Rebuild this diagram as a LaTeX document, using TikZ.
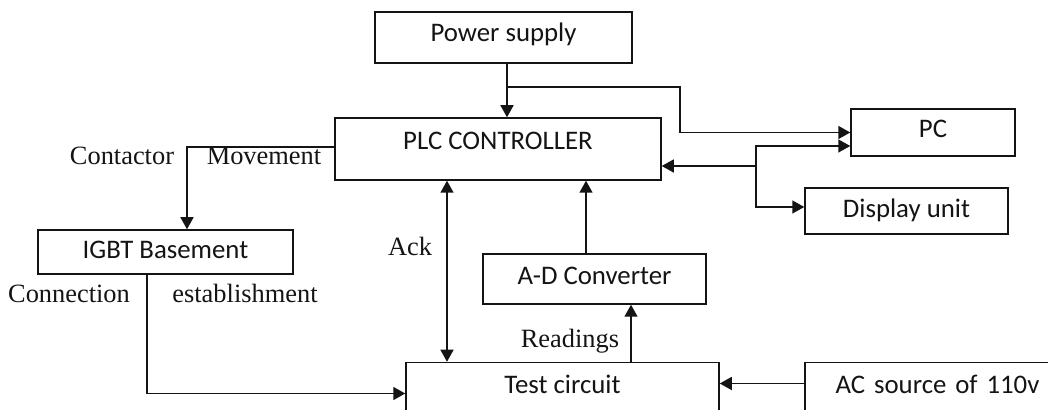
\documentclass[tikz,border=0pt]{standalone}
\usepackage{fontspec}
\setmainfont{Liberation Serif}
\newfontfamily\boxfont{Carlito}
\usetikzlibrary{arrows.meta, calc}
\definecolor{ink}{HTML}{141414}
\tikzset{
  every node/.style = {text=ink},
  bdbox/.style  = {draw=ink, line width=0.75pt, fill=white, align=center, inner sep=0pt,
                   font=\boxfont\fontsize{13.4}{16}\selectfont, text height=9pt, text depth=2pt},
  bdlab/.style  = {font=\fontsize{13.2}{16}\selectfont, inner sep=0pt, text height=8pt, text depth=0pt},
  bdgo/.style   = {-{Triangle[length=6pt,width=6.5pt]}, draw=ink, line width=0.75pt},
  bdboth/.style = {{Triangle[length=6pt,width=6.5pt]}-{Triangle[length=6pt,width=6.5pt]},
                   draw=ink, line width=0.75pt},
}

\begin{document}
\begin{tikzpicture}[x=0.5pt, y=-0.5pt]

\useasboundingbox (0,0) rectangle (1048,410);
\clip (0,0) rectangle (1048,410);

% blocks
\node[bdbox, minimum width=128.5pt, minimum height=25.5pt, text depth=4.5pt] (PS)   at (503.5,37.5) {Power supply};
\node[bdbox, minimum width=163pt,   minimum height=31pt,   text depth=8pt]   (PLC)  at (498,149)    {PLC CONTROLLER};
\node[bdbox, minimum width=82pt,    minimum height=23.5pt, text depth=3.5pt] (PC)   at (933,132.5)  {PC};
\node[bdbox, minimum width=101.5pt, minimum height=23pt,   text depth=2.5pt] (DU)   at (906.5,211)  {Display unit};
\node[bdbox, minimum width=127.5pt, minimum height=22pt,   text depth=2pt]   (IGBT) at (165.5,252)  {IGBT Basement};
\node[bdbox, minimum width=111.5pt, minimum height=25pt,   text depth=3pt]   (ADC)  at (594.5,279)  {A-D Converter};
\node[bdbox, minimum width=156.5pt, minimum height=31pt,   text depth=9pt]   (TC)   at (562.5,393.5) {Test circuit};
\node[bdbox, minimum width=132.5pt, minimum height=31pt,   text depth=9pt, text width=127pt] (AC) at (937.5,393.5) {AC source of 110v};

% labels
\node[bdlab] (lcon)  at (122,157) {Contactor};
\node[bdlab] (lmov)  at (264,157) {Movement};
\node[bdlab] (lack)  at (410,248) {Ack};
\node[bdlab] (lread) at (570,340) {Readings};
\node[bdlab] (lconn) at (69,295)  {Connection};
\node[bdlab] (lest)  at (245,295) {establishment};

% supply
\coordinate (tap)  at (507,87);
\coordinate (turn) at (680,87);
\draw[bdgo] ([xshift=1.75pt]PS.south) -- ([xshift=1.75pt]PS.south |- PLC.north);
\draw[bdgo] (tap) -- (turn) |- (PC.west);

% controller to outputs
\coordinate (hub) at (756,166);
\draw[bdgo] (hub) -- (hub -| PLC.east);
\draw[bdgo] (hub) |- ([yshift=-6.75pt]PC.west);
\draw[bdgo] (hub) |- ([yshift=2pt]DU.west);

% contactor and connection
\draw[bdgo] ([yshift=1pt]PLC.west) -| ([xshift=10.75pt]IGBT.north);
\draw[bdgo] ([xshift=-9.25pt]IGBT.south) |- (TC.west);

% measurement path
\draw[bdboth] ([xshift=-25.5pt]PLC.south) -- ([xshift=-25.5pt]PLC.south |- TC.north);
\draw[bdgo] ([xshift=-4.25pt]ADC.north) -- ([xshift=-4.25pt]ADC.north |- PLC.south);
\draw[bdgo] ([xshift=34.25pt]TC.north) -- ([xshift=34.25pt]TC.north |- ADC.south);
\draw[bdgo] ([yshift=5pt]AC.west) -- ([yshift=5pt]AC.west -| TC.east);

\end{tikzpicture}
\end{document}
